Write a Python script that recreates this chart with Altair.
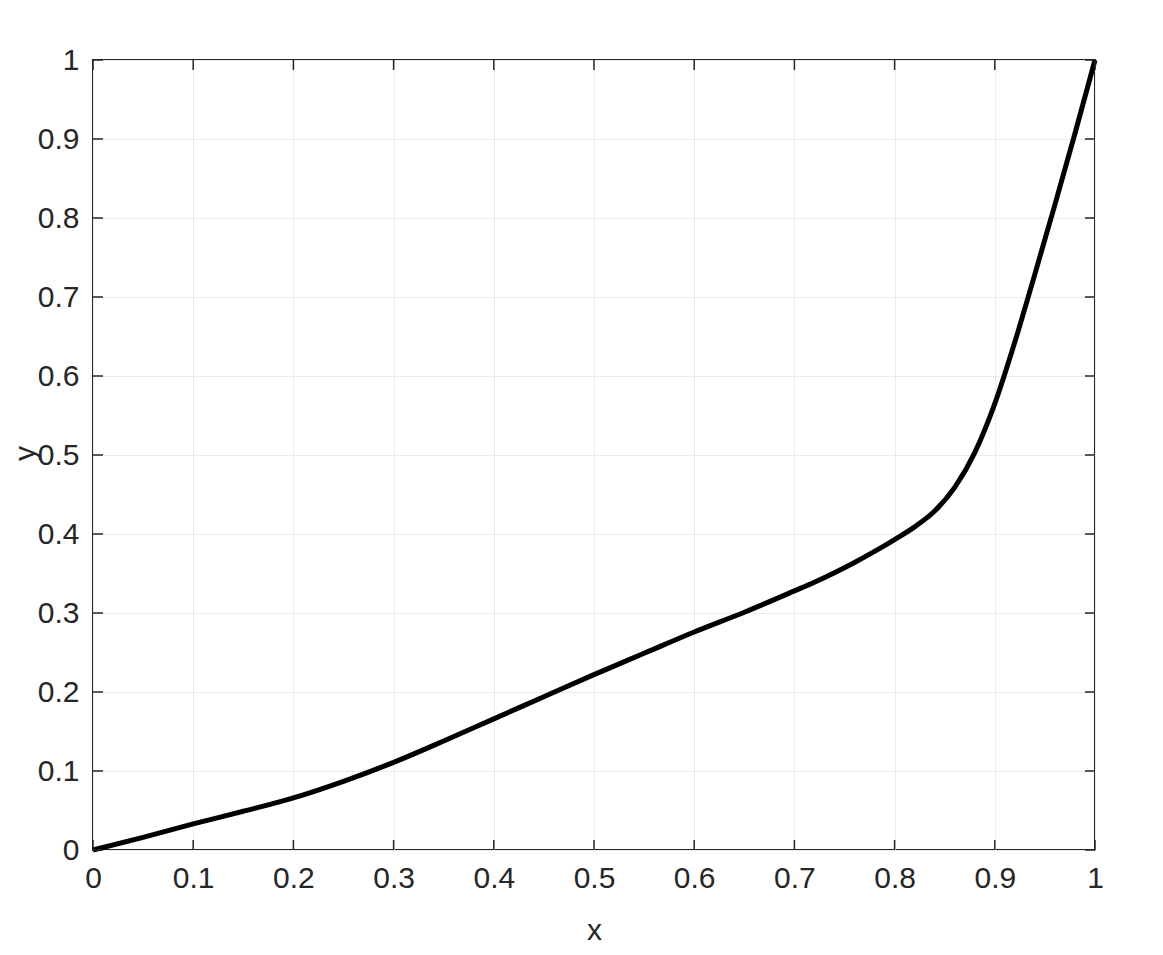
import altair as alt
import pandas as pd

x_vals = [0, 0.05, 0.1, 0.15, 0.2, 0.25, 0.3, 0.35, 0.4, 0.45, 0.5, 0.55, 0.6, 0.65,
          0.7, 0.72, 0.74, 0.76, 0.78, 0.8, 0.82, 0.84, 0.86, 0.88, 0.9, 0.92, 0.94,
          0.96, 0.98, 1.0]
y_vals = [0, 0.016, 0.033, 0.049, 0.066, 0.087, 0.111, 0.138, 0.166, 0.194, 0.222,
          0.249, 0.276, 0.301, 0.328, 0.339, 0.351, 0.364, 0.378, 0.393, 0.409, 0.429,
          0.459, 0.503, 0.565, 0.643, 0.729, 0.817, 0.907, 1.0]
x_ticks = [0, 0.1, 0.2, 0.3, 0.4, 0.5, 0.6, 0.7, 0.8, 0.9, 1]
y_ticks = [0, 0.1, 0.2, 0.3, 0.4, 0.5, 0.6, 0.7, 0.8, 0.9, 1]

W, H = 1002, 790
TICK = 10
FONT = "Liberation Sans"
AX = "#262626"

df = pd.DataFrame({"x": x_vals, "y": y_vals})
xt = pd.DataFrame({"t": x_ticks})
yt = pd.DataFrame({"t": y_ticks})

xscale = alt.Scale(domain=[0, 1], nice=False, zero=False)
yscale = alt.Scale(domain=[0, 1], nice=False, zero=False)

line = alt.Chart(df).mark_line(color="black", strokeWidth=5, interpolate="monotone").encode(
    x=alt.X("x:Q", scale=xscale,
            axis=alt.Axis(values=x_ticks, format=".1~f", title="x", grid=True,
                          gridColor="#ebebeb", gridWidth=1, ticks=False, domain=False,
                          labelFont=FONT, labelFontSize=30, labelColor=AX,
                          labelPadding=13, labelFlush=False,
                          titleFont=FONT, titleFontSize=30, titleColor=AX,
                          titleFontWeight="normal", titleY=80, titleBaseline="middle")),
    y=alt.Y("y:Q", scale=yscale,
            axis=alt.Axis(values=y_ticks, format=".1~f", title="y", grid=True,
                          gridColor="#ebebeb", gridWidth=1, ticks=False, domain=False,
                          labelFont=FONT, labelFontSize=30, labelColor=AX,
                          labelPadding=14, labelFlush=False,
                          titleFont=FONT, titleFontSize=30, titleColor=AX,
                          titleFontWeight="normal", titleAngle=270,
                          titleX=-68, titleY=393, titleAlign="center",
                          titleBaseline="middle")),
)

bottom = alt.Chart(xt).mark_rule(color=AX, strokeWidth=1.5).encode(
    x=alt.X("t:Q", scale=xscale), y=alt.value(H), y2=alt.value(H - TICK))
top = alt.Chart(xt).mark_rule(color=AX, strokeWidth=1.5).encode(
    x=alt.X("t:Q", scale=xscale), y=alt.value(0), y2=alt.value(TICK))
left = alt.Chart(yt).mark_rule(color=AX, strokeWidth=1.5).encode(
    y=alt.Y("t:Q", scale=yscale), x=alt.value(0), x2=alt.value(TICK))
right = alt.Chart(yt).mark_rule(color=AX, strokeWidth=1.5).encode(
    y=alt.Y("t:Q", scale=yscale), x=alt.value(W), x2=alt.value(W - TICK))

chart = alt.layer(line, bottom, top, left, right).properties(
    width=W, height=H,
    autosize=alt.AutoSizeParams(type="none"),
    padding={"left": 85, "top": 52, "right": 60, "bottom": 100},
    background="white",
).configure_view(stroke=AX, strokeWidth=2)

chart.save("out.html", embed_options={"renderer": "svg", "actions": False})
